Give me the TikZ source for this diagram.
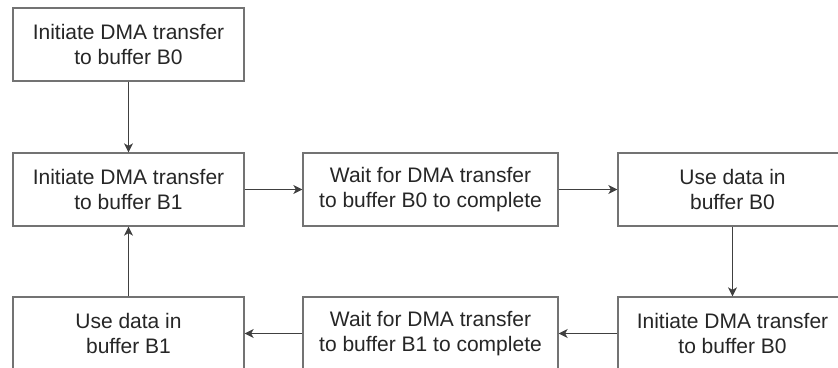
\documentclass[tikz,border=0pt]{standalone}
\usepackage{fontspec}
\setmainfont{Liberation Sans}
\usepackage{tikz}
\usetikzlibrary{arrows.meta}
\tikzset{
	stepbox/.style={draw=black!55,line width=1.3pt,fill=white,text=black!85,
		minimum height=73pt,align=center,inner sep=0pt,
		font=\fontsize{21}{25}\selectfont},
	flow/.style={-{Stealth[length=9pt,width=9pt,inset=2.5pt]},line width=1.2pt,draw=black!75}
}

\begin{document}
\begin{tikzpicture}[x=1pt,y=-1pt]
	\useasboundingbox (0,0) rectangle (838,367);
	\clip (0,0) rectangle (838,367);

	%top box
	\node[stepbox,minimum width=231pt] (startB0) at (128.5,44.5) {Initiate DMA transfer\\to buffer B0};

	%middle row
	\node[stepbox,minimum width=231pt] (startB1) at (128.5,189.5) {Initiate DMA transfer\\to buffer B1};
	\node[stepbox,minimum width=255pt] (waitB0)  at (430.5,189.5) {Wait for DMA transfer\\to buffer B0 to complete};
	\node[stepbox,minimum width=229pt] (useB0)   at (732.5,189.5) {Use data in\\buffer B0};

	%bottom row (cut at the lower edge)
	\node[stepbox,minimum width=229pt] (againB0) at (732.5,333.5) {Initiate DMA transfer\\to buffer B0};
	\node[stepbox,minimum width=255pt] (waitB1)  at (430.5,333.5) {Wait for DMA transfer\\to buffer B1 to complete};
	\node[stepbox,minimum width=231pt] (useB1)   at (128.5,333.5) {Use data in\\buffer B1};

	%arrows
	\draw[flow] (startB0) -- (startB1);
	\draw[flow] (startB1) -- (waitB0);
	\draw[flow] (waitB0)  -- (useB0);
	\draw[flow] (useB0)   -- (againB0);
	\draw[flow] (againB0) -- (waitB1);
	\draw[flow] (waitB1)  -- (useB1);
	\draw[flow] (useB1)   -- (startB1);
\end{tikzpicture}
\end{document}
